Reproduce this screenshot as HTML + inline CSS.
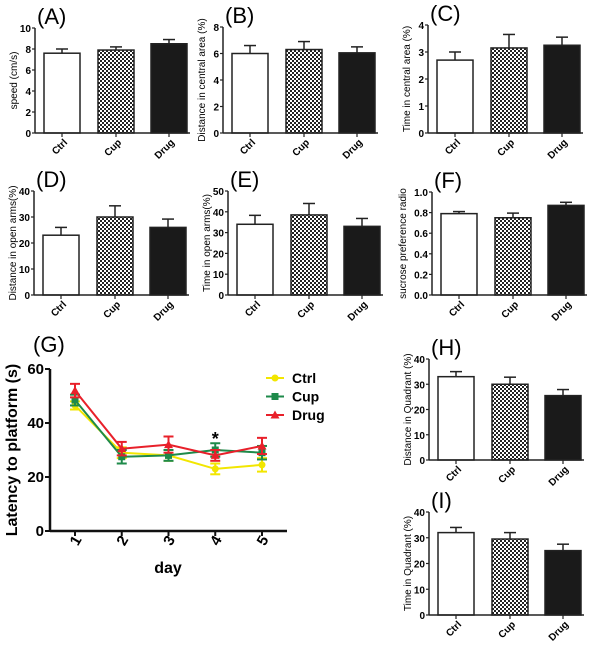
<!DOCTYPE html>
<html><head><meta charset="utf-8"><style>
body{margin:0;background:#fff}
svg{display:block;font-family:"Liberation Sans",Arial,sans-serif}
</style></head><body>
<svg id="fig" width="600" height="648" viewBox="0 0 600 648" xmlns="http://www.w3.org/2000/svg">
<defs>
<pattern id="chk" width="4" height="4" patternUnits="userSpaceOnUse">
<rect width="4" height="4" fill="#fff"/><rect width="2" height="2" fill="#222"/><rect x="2" y="2" width="2" height="2" fill="#222"/>
</pattern>
</defs>
</svg>
<script>
const groups=["Ctrl","Cup","Drug"];
const aVals=[7.6,7.9,8.5], aErr=[0.4,0.3,0.4], aTicks=[0,2,4,6,8,10];
const bVals=[6.0,6.3,6.05], bErr=[0.6,0.6,0.45], bTicks=[0,2,4,6,8];
const cVals=[2.7,3.15,3.25], cErr=[0.3,0.5,0.3], cTicks=[0,1,2,3,4];
const dVals=[23,30,26], dErr=[3,4.3,3.2], dTicks=[0,10,20,30,40];
const eVals=[34,38.5,33], eErr=[4.3,5.5,3.8], eTicks=[0,10,20,30,40,50];
const fVals=[0.79,0.75,0.87], fErr=[0.02,0.045,0.03], fTicks=[0,0.2,0.4,0.6,0.8,1.0];
const hVals=[33,30,25.5], hErr=[2,2.8,2.4], hTicks=[0,10,20,30,40];
const iVals=[32,29.5,25], iErr=[2,2.5,2.5], iTicks=[0,10,20,30,40];
const days=[1,2,3,4,5];
const gTicks=[0,20,40,60];
const ctrlVals=[46.5,29,28,23,24.5], ctrlErr=[1.5,2,2,2,2.5];
const cupVals=[48.5,27.5,28,30,29], cupErr=[2,2.5,2,2.5,2.5];
const drugVals=[52,30.5,32,28,31.5], drugErr=[2.5,2.5,3,2,3];

const svg=document.getElementById('fig');
const NS='http://www.w3.org/2000/svg';
function mk(tag,attrs,parent,text){const e=document.createElementNS(NS,tag);for(const k in attrs)e.setAttribute(k,attrs[k]);if(text!==undefined)e.textContent=text;(parent||svg).appendChild(e);return e;}

function barPanel(id,label,title,vals,errs,ticks,ax,top,bot,decimals){
  const g=mk('g',{});
  
  
  const max=ticks[ticks.length-1];
  const y=v=>bot-(v/max)*(bot-top);
  const t=mk('text',{x:ax+2,y:top-4,'font-size':22},g,'('+label+')');
  
  
  const offs=[27,81,134];
  groups.forEach((gr,i)=>{
    const cx=ax+offs[i];
    const fill=i===0?'#fff':(i===1?'url(#chk)':'#1a1a1a');
    const ey=y(vals[i]+errs[i]);
    const el=mk('line',{x1:cx,x2:cx,y1:y(vals[i]),y2:ey,stroke:'#222','stroke-width':1.5},g);
    
    
    mk('line',{x1:cx-6,x2:cx+6,y1:ey,y2:ey,stroke:'#222','stroke-width':1.5},g);
    const r=mk('rect',{x:cx-18,y:y(vals[i]),width:36,height:bot-y(vals[i]),fill:fill,stroke:'#222','stroke-width':1.5},g);
    
    
    mk('line',{x1:cx,x2:cx,y1:bot,y2:bot+4,stroke:'#222','stroke-width':1.2},g);
    const tl=mk('text',{x:cx+6,y:bot+10,'font-size':10,'font-weight':'bold','text-anchor':'end',transform:`rotate(-45 ${cx+6} ${bot+10})`},g,gr);
    
    
  });
  mk('line',{x1:ax,x2:ax,y1:top,y2:bot,stroke:'#222','stroke-width':1.5},g);
  mk('line',{x1:ax,x2:ax+155,y1:bot,y2:bot,stroke:'#222','stroke-width':1.5},g);
  ticks.forEach(v=>{
    mk('line',{x1:ax-3,x2:ax,y1:y(v),y2:y(v),stroke:'#222','stroke-width':1.2},g);
    const tt=mk('text',{x:ax-4,y:y(v)+4,'font-size':10,'font-weight':'bold','text-anchor':'end'},g,decimals?v.toFixed(decimals):v);
    
    
  });
  const cy=(top+bot)/2, tx=ax-(decimals?26:18);
  const yt=mk('text',{x:tx,y:cy,'font-size':10,'text-anchor':'middle',transform:`rotate(-90 ${tx} ${cy})`},g,title);
  
  
}
barPanel('a','A','speed (cm/s)',aVals,aErr,aTicks,35,28,133);
barPanel('b','B','Distance in central area (%)',bVals,bErr,bTicks,223,27,133);
barPanel('c','C','Time in central area (%)',cVals,cErr,cTicks,428,25,133);
barPanel('d','D','Distance in open arms(%)',dVals,dErr,dTicks,34,191,295);
barPanel('e','E','Time in open arms(%)',eVals,eErr,eTicks,228,191,295);
barPanel('f','F','sucrose preference radio',fVals,fErr,fTicks,432,192,295,1);
barPanel('h','H','Distance in Quadrant (%)',hVals,hErr,hTicks,429,359,460);
barPanel('i','I','Time in Quadrant (%)',iVals,iErr,iTicks,429,512,615);

// Panel G
(function(){
  const g=mk('g',{});
  
  
  const ax=50, top=369, bot=531, xEnd=287;
  const y=v=>bot-(v/60)*(bot-top);
  const x=d=>75+(d-1)*46.75;
  const lab=mk('text',{x:33,y:352,'font-size':22},g,'(G)');
  
  
  mk('line',{x1:ax,x2:ax,y1:top,y2:bot,stroke:'#111','stroke-width':2.5},g);
  mk('line',{x1:ax,x2:xEnd,y1:bot,y2:bot,stroke:'#111','stroke-width':2.5},g);
  gTicks.forEach(v=>{
    mk('line',{x1:ax-5,x2:ax,y1:y(v),y2:y(v),stroke:'#111','stroke-width':2},g);
    const t=mk('text',{x:ax-6,y:y(v)+5,'font-size':15,'font-weight':'bold','text-anchor':'end'},g,v);
    
    
  });
  days.forEach(d=>{
    mk('line',{x1:x(d),x2:x(d),y1:bot,y2:bot+5,stroke:'#111','stroke-width':2},g);
    const t=mk('text',{x:x(d)+5,y:bot+12,'font-size':15,'font-weight':'bold','text-anchor':'middle',transform:`rotate(-60 ${x(d)+5} ${bot+12})`},g,d);
    
    
  });
  const xt=mk('text',{x:168,y:573,'font-size':16,'font-weight':'bold','text-anchor':'middle'},g,'day');
  
  
  const yt=mk('text',{x:17,y:450,'font-size':16,'font-weight':'bold','text-anchor':'middle',transform:'rotate(-90 17 450)'},g,'Latency to platform (s)');
  
  
  const series=[['ctrl','Ctrl',ctrlVals,ctrlErr,'#f2e600','circle'],['cup','Cup',cupVals,cupErr,'#1e8a4a','square'],['drug','Drug',drugVals,drugErr,'#e8202a','tri']];
  function marker(shape,cx,cy,col,parent){
    if(shape==='circle')return mk('circle',{cx:cx,cy:cy,r:3.5,fill:col},parent);
    if(shape==='square')return mk('rect',{x:cx-3.5,y:cy-3.5,width:7,height:7,fill:col},parent);
    return mk('polygon',{points:`${cx},${cy-4.5} ${cx-4.5},${cy+3.5} ${cx+4.5},${cy+3.5}`,fill:col},parent);
  }
  series.forEach(([k,name,vals,errs,col,shape])=>{
    const sg=mk('g',{},g);
    
    
    const pts=days.map((d,i)=>x(d)+','+y(vals[i])).join(' ');
    mk('polyline',{points:pts,fill:'none',stroke:col,'stroke-width':2},sg);
    days.forEach((d,i)=>{
      const cx=x(d), hi=y(vals[i]+errs[i]), lo=y(vals[i]-errs[i]);
      mk('line',{x1:cx,x2:cx,y1:hi,y2:lo,stroke:col,'stroke-width':2},sg);
      mk('line',{x1:cx-5,x2:cx+5,y1:hi,y2:hi,stroke:col,'stroke-width':2},sg);
      mk('line',{x1:cx-5,x2:cx+5,y1:lo,y2:lo,stroke:col,'stroke-width':2},sg);
      const m=marker(shape,cx,y(vals[i]),col,sg);
      
      
    });
  });
  const star=mk('text',{x:x(4),y:445,'font-size':18,'font-weight':'bold','text-anchor':'middle'},g,'*');
  
  
  series.forEach(([k,name,vals,errs,col,shape],i)=>{
    const ly=378+i*18.5;
    const lg=mk('g',{},g);
    
    
    mk('line',{x1:266,x2:284,y1:ly,y2:ly,stroke:col,'stroke-width':2},lg);
    marker(shape,275,ly,col,lg);
    mk('text',{x:292,y:ly+5,'font-size':14,'font-weight':'bold'},lg,name);
  });
})();
</script>
</body></html>
